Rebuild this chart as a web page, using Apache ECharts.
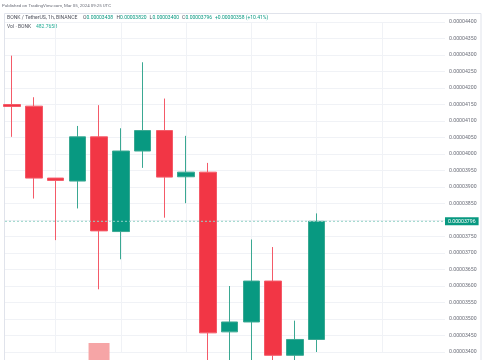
<!DOCTYPE html>
<html><head><meta charset="utf-8">
<script src="https://cdn.jsdelivr.net/npm/echarts@6/dist/echarts.min.js"></script>
<style>html,body{margin:0;padding:0;background:#fff;}#c{width:485px;height:360px;}</style>
</head><body><div id="c"></div>
<script>
// ---- data (price in USDT) ----
const categories = ['19:00','20:00','21:00','22:00','23:00','00:00','01:00','02:00','03:00','04:00','05:00','06:00','07:00','08:00','09:00','10:00','11:00','12:00','13:00','14:00'];
const opens  = [0.00004150,0.00004145,0.00003927,0.00003918,0.00004052,0.00003765,0.00004009,0.00004071,0.00003931,0.00003945,0.00003461,0.00003491,0.00003615,0.00003390,0.00003438];
const closes = [0.00004144,0.00003927,0.00003920,0.00004052,0.00003767,0.00004009,0.00004071,0.00003930,0.00003945,0.00003458,0.00003491,0.00003615,0.00003390,0.00003438,0.00003796];
const lows   = [0.00004052,0.00003865,0.00003739,0.00003835,0.00003590,0.00003681,0.00003958,0.00003807,0.00003851,0.00003350,0.00003360,0.00003365,0.00003375,0.00003370,0.00003400];
const highs  = [0.00004298,0.00004172,0.00003927,0.00004085,0.00004148,0.00004078,0.00004278,0.00004168,0.00004055,0.00003973,0.00003600,0.00003741,0.00003718,0.00003495,0.00003820];
const volumes = [310,420,180,260,1100,400,350,300,200,460,380,300,350,250,482.765]; // billions BONK
const yMin = 0.000034, yMax = 0.000044, yStep = 0.0000005;

const UP = '#089981', DOWN = '#f23645';
const n = closes.length;
const candleData = opens.map((o,i)=>[o, closes[i], lows[i], highs[i]]);
const lastClose = closes[n-1], prevClose = closes[n-2];
const chg = lastClose - prevClose;
const pct = chg / prevClose * 100;
const volData = volumes.map((v,i)=>({value:v, itemStyle:{color: closes[i]>=opens[i] ? '#8fd3c6' : '#f6a5a6'}}));

const chart = echarts.init(document.getElementById('c'), null, {renderer:'canvas'});
const fmt = v => v.toFixed(8);
const FF = 'Roboto';
const txt = (x,y,t,fill,size) => ({type:'text', x:x, y:y, silent:true,
  style:{text:t, fill:fill, fontSize:size||5, fontFamily:FF, verticalAlign:'middle'}});
chart.setOption({
  animation:false,
  backgroundColor:'#ffffff',
  grid:[
    {left:5, right:40, top:22, bottom:8},
    {left:12, right:59.56, top:22, bottom:8},
    {left:12, right:59.56, top:343, bottom:0}
  ],
  xAxis:[
    {type:'value', gridIndex:0, min:0, max:1, show:false},
    {type:'category', gridIndex:1, data:categories, boundaryGap:false,
     axisLine:{show:false}, axisTick:{show:false}, axisLabel:{show:false},
     splitLine:{show:true, interval:(i)=> i%3===2, lineStyle:{color:'#f0f2f6', width:1}}},
    {type:'category', gridIndex:2, data:categories, boundaryGap:false, show:false}
  ],
  yAxis:[
    {type:'value', gridIndex:0, position:'right', min:yMin, max:yMax, interval:yStep,
     axisLine:{show:false}, axisTick:{show:false},
     axisLabel:{margin:4, fontSize:5.2, color:'#6a6d78', fontFamily:FF,
       formatter:(v)=> Math.abs(v-0.000038)<1e-10 ? '' : fmt(v)},
     splitLine:{show:true, lineStyle:{color:'#f0f2f6', width:1}}},
    {type:'value', gridIndex:1, min:yMin, max:yMax, show:false},
    {type:'value', gridIndex:2, min:600, max:1100, show:false}
  ],
  series:[
    {type:'bar', xAxisIndex:2, yAxisIndex:2, data:volData, barWidth:21, silent:true},
    {type:'line', xAxisIndex:0, yAxisIndex:0, data:[[0,lastClose],[1,lastClose]], silent:true,
     symbol:'none', lineStyle:{color:'#93d2c6', type:[2,2], width:1},
     endLabel:{show:true, distance:0, formatter:()=>fmt(lastClose), color:'#ffffff',
       backgroundColor:UP, fontSize:5.2, fontFamily:FF, padding:[1.5,3,1.5,3]}},
    {type:'candlestick', xAxisIndex:1, yAxisIndex:1, data:candleData, barWidth:17, clip:false,
     itemStyle:{color:UP, color0:DOWN, borderColor:'#3aa892', borderColor0:'#f45a68', borderWidth:1}}
  ],
  graphic:[
    {type:'rect', shape:{x:4.5, y:13.5, width:476.5, height:400}, style:{fill:'none', stroke:'#e0e3eb', lineWidth:1}, silent:true},
    txt(2, 6, 'Published on TradingView.com, Mar 05, 2024 09:25 UTC', '#6a6d78', 4.4),
    txt(7, 18, 'BONK / TetherUS, 1h, BINANCE', '#50535e', 5.1),
    txt(83, 18, 'O', '#50535e'), txt(86.5, 18, fmt(opens[n-1]), UP),
    txt(116.5, 18, 'H', '#50535e'), txt(120, 18, fmt(highs[n-1]), UP),
    txt(149.5, 18, 'L', '#50535e'), txt(152.5, 18, fmt(lows[n-1]), UP),
    txt(182, 18, 'C', '#50535e'), txt(185.5, 18, fmt(lastClose), UP),
    txt(215, 18, (chg>=0?'+':'')+fmt(chg)+' ('+(pct>=0?'+':'')+pct.toFixed(2)+'%)', UP),
    txt(7, 27, 'Vol · BONK', '#50535e'),
    txt(36, 27, volumes[n-1].toFixed(3)+'B', '#22ab94')
  ]
});
</script></body></html>
